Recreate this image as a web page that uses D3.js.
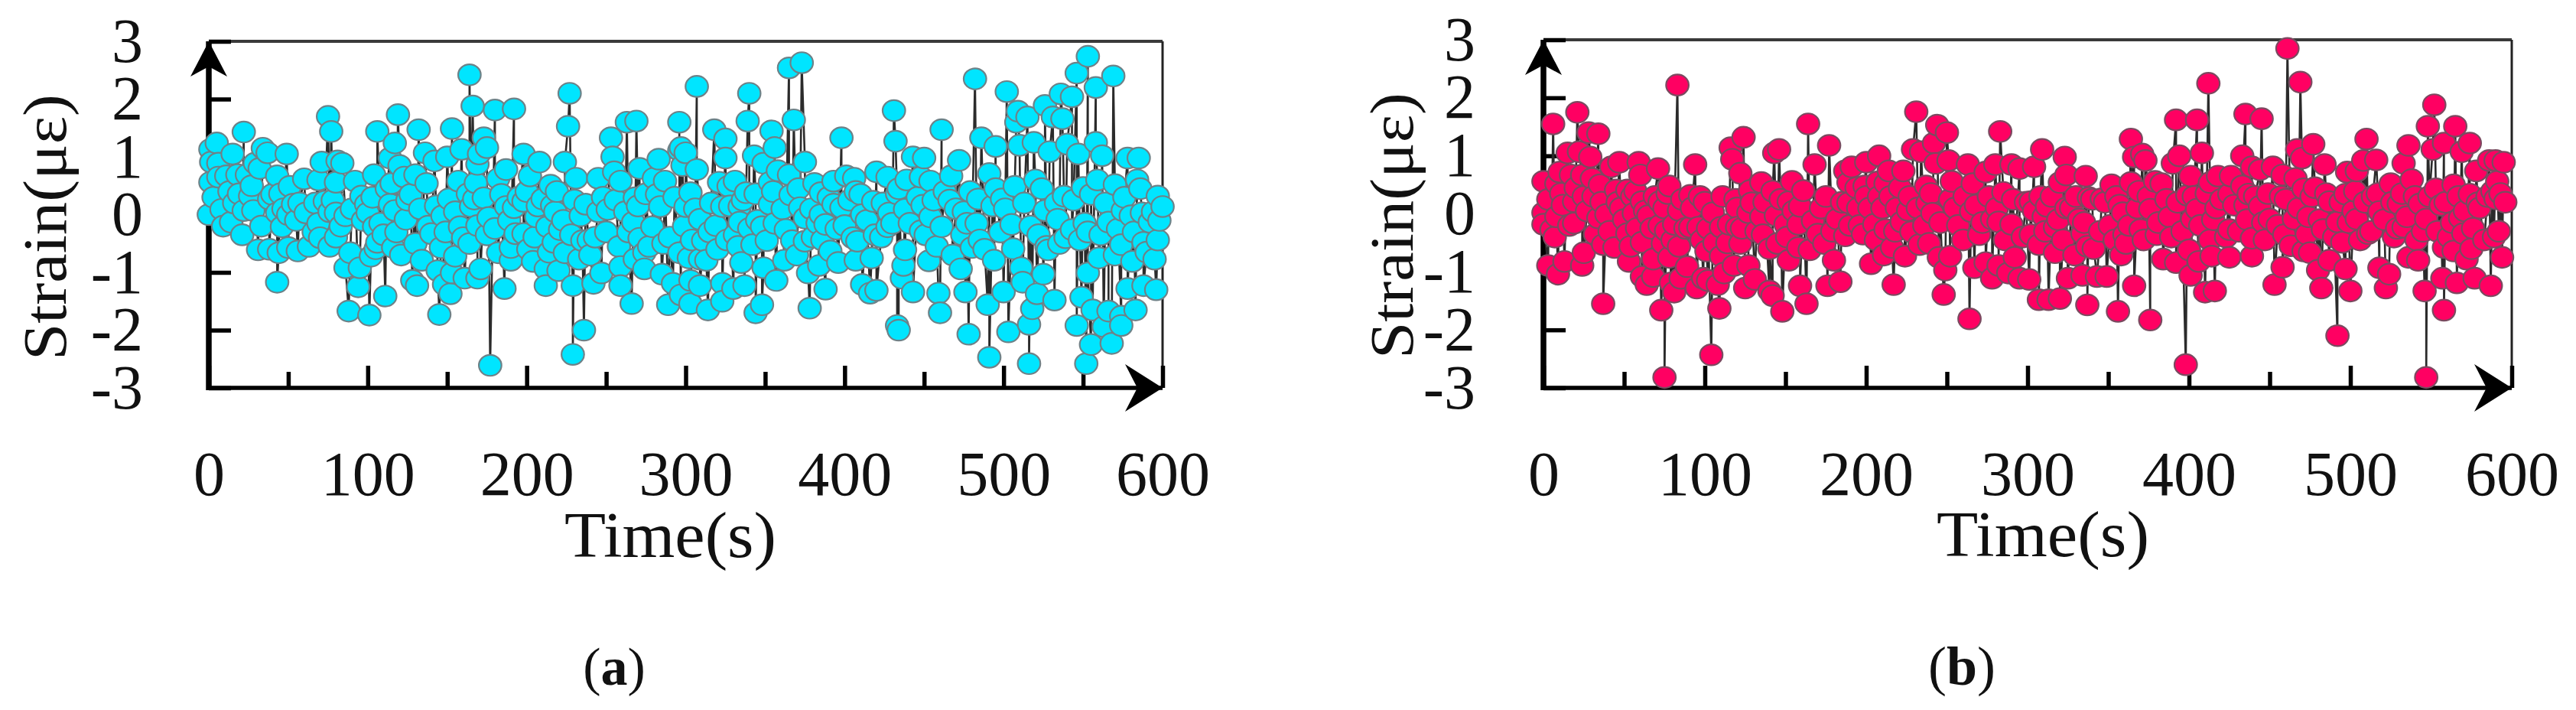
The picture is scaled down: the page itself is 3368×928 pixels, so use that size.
<!DOCTYPE html>
<html><head><meta charset="utf-8">
<script src="https://cdnjs.cloudflare.com/ajax/libs/d3/7.8.5/d3.min.js"></script>
<style>html,body{margin:0;padding:0;background:#fff}svg{display:block}text{font-family:"Liberation Serif",serif;fill:#111}</style>
</head><body><svg id="c" width="3368" height="928"></svg>
<script>
const yTicks=[-3,-2,-1,0,1,2,3];
const xMajor=[0,100,200,300,400,500,600];
const xMinor=[50,150,250,350,450,550];
const xTitle="Time(s)", yTitle="Strain(με)";
const panelNames=["a","b"];
const pointsA=[[0,0],[1,1.13],[5,1.24],[22,1.43],[1.5,.91],[15,1.05],[6,.89],[1,.56],[6,.65],[11,.67],[18,.69],[29,.89],[34,1.15],[37,1.07],[49,1.05],[43,.67],[32,.8],[24,.69],[13,.4],[19,.36],[26,.32],[8,.09],[22,.07],[28,.07],[14,-.13],[21,-.35],[38,.27],[45,.36],[51,.49],[60,.62],[46,-.21],[43,.03],[50,0],[53,.18],[57,.2],[31,-.61],[38,-.6],[44,-.66],[43,-1.17],[50,-.57],[56,-.63],[66,-.3],[61,.03],[67,.2],[73,.23],[69,.6],[71,.91],[77,1.44],[75,1.7],[84,.89],[81,.93],[80,.56],[76,.05],[69,-.15],[76,-.55],[80,-.39],[86,-.02],[80,.03],[92,.58],[96,.32],[99,.18],[100,.03],[104,-.21],[89,-.66],[86,-.92],[95,-.92],[94,-1.25],[88,-1.67],[101,-1.74],[111,-1.41],[106,-.48],[102,-.72],[105,-.59],[104,.69],[106,1.44],[112,.45],[115,.54],[119,1.73],[117,1.24],[114,.98],[120,.85],[123,.65],[130,.69],[114,.18],[117,.07],[125,.25],[124,-.08],[137,.54],[132,1.47],[136,1.07],[116,-.57],[121,-.7],[130,-.5],[134,-.79],[128,-1.14],[131,-1.23],[142,.93],[150,1.0],[153,1.49],[159,1.13],[147,-.02],[151,.27],[157,.58],[140,-.33],[146,-.57],[155,-.72],[144,-.97],[153,-1.01],[148,-1.21],[152,-1.37],[145,-1.73],[161,-1.1],[163,.36],[167,.27],[173,.29],[165,.14],[158,-.21],[164,-.5],[169,-.19],[171,-.94],[169,-1.1],[173,1.33],[175,1.16],[170,1.05],[169,.87],[182,.62],[187,.78],[180,1.81],[164,2.42],[166,1.88],[192,1.83],[177,-2.61],[180,-.24],[175,-.35],[182,-.66],[190,-.79],[186,-1.28],[187,.14],[192,.12],[190,-.57],[193,-.33],[198,1.05],[208,.91],[202,.67],[200,.4],[198,.23],[206,-.04],[198,-.33],[204,-.81],[212,-.94],[212,-1.23],[220,-.97],[215,.51],[219,.4],[216,.16],[210,.27],[205,-.39],[213,-.21],[217,-.48],[224,-.66],[221,-.26],[226,1.53],[227,2.1],[224,.91],[231,.63],[228,-.35],[233,-.77],[229,-1.23],[229,-2.42],[242,-1.19],[236,-2.0],[237,.18],[234,-.02],[239,-.44],[243,-.39],[245,.05],[251,.09],[247,-1.01],[259,-.9],[259,-1.23],[266,-1.54],[245,.63],[253,1.33],[254,1.0],[255,.74],[259,.58],[262,.05],[268,.29],[269,1.62],[263,1.6],[271,.8],[267,-.13],[271,-.41],[275,.36],[283,.96],[280,.63],[287,.58],[284,.14],[279,-.21],[274,-.66],[268,-.77],[274,-.94],[285,-1.03],[289,-1.56],[290,-.39],[296,-.66],[292,-1.19],[297,-1.39],[296,1.6],[296,1.11],[298,.85],[300,.14],
[307,2.22],[340,2.1],[339,1.62],[318,1.47],[325,1.31],[325,.98],[354,1.45],[356,1.16],[368,1.64],[375,.91],[365,2.54],[373,2.63],[297,1.16],[300,1.07],[307,.78],[303,.38],[321,.56],[331,.58],[327,.49],[338,.38],[344,.36],[323,.14],[334,.14],[353,.18],[309,-.08],[319,-.19],[315,-.3],[334,-.13],[340,-.24],[348,-.21],[356,-.15],[363,-.26],[304,-.44],[326,-.44],[331,-.35],[342,-.52],[313,-.79],[309,-.77],[335,-.83],[349,-.92],[362,-.79],[370,-.7],[303,-1.14],[309,-1.23],[323,-1.19],[337,-1.23],[330,-1.28],[357,-1.14],[303,-1.54],[314,-1.65],[323,-1.5],[344,-1.7],[348,-1.56],[378,-1.62],[388,-1.29],[377,-1.01],[343,1.02],[349,.89],[358,.76],[365,.69],[353,.56],[366,.34],[372,.12],[375,-.06],[381,.54],[385,.38],[393,.58],[398,1.33],[401,.67],[406,.63],[407,.4],[393,.18],[398,.12],[385,0],[411,0],[418,.23],[420,.74],[427,.65],[428,.03],[427,-.21],[423,-.39],[417,-.75],[400,-.19],[388,-.17],[380,-.39],[375,-.46],[386,-.44],[408,-.46],[391,-.63],[396,-.83],[384,-.88],[407,-.79],[411,-1.21],[416,-1.36],[420,-1.31],[431,1.8],[432,1.27],[433,.36],[438,.09],[439,.6],[443,1.0],[450,.98],[448,.65],[454,.58],[449,.16],[454,-.04],[448,-.28],[438,-.61],[437,-.88],[436,-1.1],[443,-1.34],[433,-1.92],[434,-2.0],[453,-.8],[461,1.47],[472,.94],[467,.67],[466,.25],[461,-.21],[468,-.7],[473,-.94],[459,-1.36],[460,-1.7],[476,-1.34],[478,-2.07],[477,-.15],[475,.05],[485,-.44],[480,-.57],[484,.27],[482,2.35],[486,1.33],[495,1.18],[491,.71],[495,.45],[499,.27],[494,-.79],[490,-1.56],[491,-2.47],[500,-1.34],[503,-2.03],[505,-.17],[506,-.59],[507,.49],[502,2.13],[509,1.79],[508,1.6],[515,1.69],[510,1.2],[519,1.25],[529,1.09],[524,.45],[526,.07],[534,-.08],[522,-.35],[528,-.61],[535,-.5],[511,-.92],[512,-1.17],[525,-1.03],[532,-1.48],[521,-1.37],[518,-1.63],[516,-1.9],[516,-2.58],[526,1.89],[531,1.69],[536,2.09],[537,1.66],[543,2.04],[546,2.45],[553,2.74],[558,2.2],[569,2.4],[540,1.22],[547,1.05],[562,1.02],[558,1.25],[538,.32],[543,-.26],[548,-.44],[553,-.3],[561,-.35],[566,-.13],[550,.47],[559,.6],[570,.52],[553,-1.01],[549,-1.43],[546,-1.92],[556,-1.65],[566,-1.67],[574,-1.76],[563,-1.94],[574,-1.92],[583,-1.65],[552,-2.58],[555,-2.25],[568,-2.23],[578,.98],[585,.98],[584,.6],[575,.07],[580,-.02],[587,.03],[592,-.13],[570,-.7],[574,-.52],[581,-.81],[588,-.48],[595,-.77],[597,-.44],[578,-1.28],[588,-1.23],[596,-1.3],[597,.32],[600,.14]];
const denseBandA=[[3,.3],[9,-.2],[16,.2],[27,.5],[33,-.2],[40,.35],[47,.1],[55,-.1],[63,-.55],[70,-.4],[78,.25],[83,-.2],[90,.1],[97,-.1],[103,.3],[108,-.15],[110,-.35],[118,-.3],[127,.35],[133,.1],[138,-.2],[143,.15],[149,-.3],[155,.05],[160,-.4],[168,.55],[176,-.05],[184,.35],[189,-.1],[195,.3],[201,-.6],[207,.15],[214,-.65],[218,.05],[223,-.1],[230,.25],[235,-.45],[240,-.7],[248,.3],[250,-.3],[256,.25],[258,-.55],[264,-.3],[270,.15],[277,-.55],[282,.35],[286,-.5],[293,.3],[299,-.2],[302,-.75],[306,.1],[311,-.45],[316,.2],[320,-.6],[328,.15],[333,-.55],[336,.25],[345,-.1],[351,-.45],[355,.4],[361,.1],[367,-.45],[371,.45],[379,.1],[383,-.15],[390,.3],[395,-.25],[403,.25],[405,-.4],[410,.35],[414,-.1],[419,-.35],[424,.2],[430,-.15],[434,.45],[441,-.15],[446,.3],[451,-.35],[456,.25],[458,-.55],[463,.4],[470,.1],[474,-.35],[479,.4],[483,-.15],[488,-.6],[493,.15],[498,-.3],[501,.1],[513,.2],[517,-.2],[520,.6],[527,-.55],[533,.2],[539,-.4],[544,.25],[551,-.15],[555,.35],[560,-.75],[564,.2],[572,-.25],[576,.3],[582,-.3],[586,.45],[590,-.65],[594,.05],[598,-.1]];
const pointsB=[[6,1.55],[21,1.75],[28,1.4],[34,1.38],[15,1.05],[22,1.07],[29,.98],[10,.72],[17,.67],[24,.67],[30,.61],[0,.56],[8,.52],[35,.5],[42,.81],[47,.89],[59,.89],[60,.67],[71,.78],[45,.41],[52,.41],[57,.39],[25,.3],[31,.3],[12,.15],[19,.21],[0,.02],[8,-.05],[19,-.16],[0,-.18],[5,-.27],[34,-.07],[39,-.01],[48,.1],[61,.21],[56,.01],[75,.1],[65,-.03],[3,-.89],[9,-1.04],[13,-.82],[24,-.89],[25,-.67],[37,-.53],[44,-.58],[37,-1.55],[52,-.34],[61,-.49],[54,-.56],[53,-.82],[61,-1.08],[64,-1.22],[68,-1.08],[68,-.78],[74,-.51],[67,-.25],[76,-.29],[84,-.56],[73,-1.66],[75,-2.82],[83,2.22],[79,-1.19],[81,-1.35],[78,-.75],[89,-.91],[95,-1.28],[85,-1.11],[109,-1.63],[104,-2.43],[108,-1.22],[102,-1.15],[99,-1.11],[112,-1.02],[110,-.73],[101,-.64],[118,-.89],[127,-.89],[131,-1.13],[125,-1.28],[140,-1.33],[142,-1.41],[148,-1.68],[78,.48],[72,.21],[94,.85],[91,.32],[97,.3],[84,.06],[91,-.23],[81,-.18],[96,-.23],[105,.02],[102,-.25],[110,-.23],[115,-.18],[120,.1],[116,1.14],[124,1.32],[117,.94],[122,.7],[135,.54],[142,.39],[129,.19],[127,.02],[135,-.05],[120,-.23],[122,-.51],[136,-.36],[144,-.03],[150,-.18],[145,-.51],[152,-.8],[146,1.11],[143,1.05],[154,.56],[152,.21],[159,.13],[164,1.55],[168,.85],[177,1.18],[172,.1],[182,-.09],[158,-.18],[167,-.12],[158,-.58],[165,-.62],[174,-.51],[180,-.8],[159,-1.24],[163,-1.55],[176,-1.24],[184,-1.17],[187,.74],[191,.81],[200,.89],[208,1.0],[189,.54],[199,.48],[214,.74],[223,.74],[212,.52],[189,.19],[200,.3],[208,.3],[195,.1],[219,.1],[226,.06],[187,-.38],[196,-.2],[205,-.18],[212,-.27],[222,-.14],[206,-.45],[216,-.58],[203,-.86],[211,-.71],[224,-.73],[217,-1.22],[228,-.31],[233,-.53],[239,-.51],[231,1.76],[244,1.53],[250,1.4],[229,1.11],[234,1.07],[242,1.22],[243,.87],[251,.92],[263,.85],[237,.48],[253,.56],[266,.52],[238,.19],[241,.01],[255,.1],[265,.04],[245,-.75],[252,-.73],[249,-.97],[248,-1.39],[264,-1.81],[267,-.93],[260,-.45],[270,-.36],[283,1.42],[274,.72],[280,.85],[290,.85],[295,.78],[285,.37],[278,-.09],[282,-.14],[278,-1.11],[288,-1.02],[295,-1.11],[274,-.84],[282,-.89],[292,-.75],[290,-.18],
[309,1.11],[323,.98],[304,.81],[324,.67],[336,.65],[320,.54],[364,1.29],[371,1.03],[373,.92],[366,.98],[352,.5],[364,.54],[383,.52],[379,.56],[338,.28],[346,.26],[355,.3],[369,.39],[392,1.62],[405,1.62],[394,1.0],[408,1.05],[412,2.25],[390,.87],[401,.65],[413,.54],[418,.65],[426,.65],[435,1.72],[445,1.64],[433,1.0],[439,.81],[444,.76],[452,.81],[458,.67],[461,2.85],[467,1.11],[470,.96],[469,2.27],[477,1.2],[484,.85],[466,.61],[471,.43],[478,.45],[399,.32],[437,.34],[433,.48],[457,.3],[425,.34],[302,.21],[312,.13],[324,.1],[332,-.09],[310,-.05],[317,-.23],[334,-.34],[302,-.36],[307,-.53],[317,-.67],[329,-.71],[341,-.6],[337,-.56],[325,-1.11],[334,-1.06],[343,-1.08],[349,-1.08],[301,-1.13],[307,-1.48],[313,-1.48],[320,-1.46],[337,-1.57],[356,-1.68],[366,-1.24],[376,-1.83],[358,-.71],[361,-.51],[351,-.2],[360,-.36],[359,.02],[370,-.27],[380,-.36],[376,.08],[388,-.05],[384,-.78],[392,-.84],[401,-1.06],[400,-.62],[406,-.82],[410,-1.35],[416,-1.33],[414,-.73],[425,-.75],[439,-.73],[405,.08],[402,-.09],[398,-2.6],[417,.1],[425,-.27],[413,-.45],[439,-.42],[447,-.45],[435,.15],[444,.13],[450,-.09],[459,-.36],[465,-.09],[474,-.05],[453,-1.22],[458,-.92],[471,-.64],[480,-.97],[482,-1.28],[497,-.95],[500,-1.33],[492,-2.1],[487,-.8],[475,-.67],[483,-.27],[495,-.49],[492,-.14],[487,.21],[498,.72],[504,.74],[510,1.29],[508,.92],[516,.93],[497,.34],[503,.39],[514,.3],[525,.52],[504,-.09],[511,-.34],[518,-.93],[524,-1.04],[522,-1.28],[518,.04],[530,.17],[527,-.4],[533,-.23],[541,-.45],[536,-.75],[542,-.8],[536,1.18],[533,.87],[538,.59],[548,1.51],[551,1.11],[552,1.88],[558,1.22],[565,1.51],[574,1.22],[569,1.07],[553,.43],[564,.5],[543,.17],[556,.15],[547,-.09],[547,-2.82],[568,-.07],[570,-.34],[561,-.4],[558,-.58],[564,-.64],[575,-.6],[572,-.78],[546,-1.33],[557,-1.11],[566,-1.19],[577,-1.11],[587,-1.24],[558,-1.66],[589,-.4],[594,-.75],[578,.74],[586,.92],[595,.89],[590,.92],[591,.56],[579,.19],[593,.35],[588,.39],[574,.34],[590,.26]];
const denseBandB=[[3,.25],[7,-.4],[11,.35],[16,-.2],[20,.45],[27,.05],[32,-.35],[36,.2],[41,-.3],[46,.2],[50,-.1],[55,.3],[58,-.25],[63,.05],[69,.3],[72,-.2],[77,.35],[80,-.45],[86,.25],[88,-.25],[92,.1],[98,-.45],[100,.2],[106,-.5],[111,.3],[114,-.5],[119,.25],[123,-.25],[128,.4],[132,-.3],[137,.2],[140,-.6],[147,.25],[151,-.4],[155,.05],[161,.4],[170,-.35],[175,.3],[179,-.3],[185,.2],[190,-.2],[194,.45],[198,-.35],[202,.1],[207,.55],[210,.1],[215,.3],[218,-.3],[221,.45],[227,.3],[232,.1],[236,-.2],[240,.35],[246,-.15],[252,.25],[257,-.2],[261,.3],[268,.15],[272,-.15],[276,.3],[281,.1],[286,-.45],[291,.25],[297,-.4],[299,.2],[304,.05],[308,.3],[311,-.3],[315,.3],[319,-.1],[322,-.45],[327,.1],[330,.3],[335,-.15],[340,.25],[345,-.3],[348,.2],[354,-.45],[357,.15],[363,-.2],[368,.1],[372,-.45],[375,.3],[381,-.15],[386,.25],[389,-.4],[393,.2],[396,-.3],[403,.3],[407,-.2],[411,.35],[415,-.1],[420,.25],[423,-.4],[428,.15],[431,-.3],[436,-.1],[441,.3],[446,-.15],[449,.35],[455,-.2],[460,.25],[463,-.55],[468,.1],[473,-.35],[476,.3],[481,-.1],[485,.35],[490,-.4],[494,.2],[499,-.15],[502,.05],[506,-.45],[509,.2],[513,-.3],[517,.35],[521,-.1],[526,.2],[529,-.25],[532,.35],[535,-.05],[540,.3],[545,-.3],[549,.3],[554,-.3],[559,.2],[563,-.15],[567,.3],[571,.05],[576,-.25],[580,.1],[583,-.45],[585,.3],[592,-.3],[596,.2]];

const svg=d3.select("#c");
function panel(o){
  const pts=o.points.slice().sort((p,q)=>d3.ascending(p[0],q[0]));
  const x=d3.scaleLinear().domain([0,600]).range([o.left,o.right]);
  const y=d3.scaleLinear().domain([-3,3]).range([o.bottom,o.top]);
  const g=svg.append("g");
  g.append("line").attr("x1",x(0)).attr("x2",x(600)).attr("y1",y(3)).attr("y2",y(3)).attr("stroke","#3a3a3a").attr("stroke-width",o.frame+1);
  g.append("line").attr("x1",x(600)).attr("x2",x(600)).attr("y1",y(3)).attr("y2",y(-3)).attr("stroke","#222").attr("stroke-width",o.frame);
  const mk=a=>{a.select(".domain").remove();return a;};
  const major=mk(g.append("g").attr("transform",`translate(0,${o.bottom})`).call(d3.axisBottom(x).tickValues(xMajor).tickSizeInner(-29).tickSizeOuter(0).tickFormat(d3.format("d"))));
  major.selectAll("line").attr("stroke","#000").attr("stroke-width",5.5);
  major.selectAll("text").attr("y",o.xLabelBase-o.bottom).attr("dy",0).attr("font-size",82).attr("text-anchor","middle");
  const minor=mk(g.append("g").attr("transform",`translate(0,${o.bottom})`).call(d3.axisBottom(x).tickValues(xMinor).tickSizeInner(-21).tickSizeOuter(0).tickFormat("")));
  minor.selectAll("line").attr("stroke","#000").attr("stroke-width",5.5);
  const ya=mk(g.append("g").attr("transform",`translate(${o.left},0)`).call(d3.axisLeft(y).tickValues(yTicks).tickSizeInner(-29).tickSizeOuter(0).tickFormat(d3.format("d"))));
  ya.selectAll("line").attr("stroke","#000").attr("stroke-width",5.5);
  ya.selectAll("text").attr("x",o.yLabelRight-o.left).attr("dy",26).attr("font-size",82).attr("text-anchor","end").text(d=>String(d));
  g.append("line").attr("x1",x(0)).attr("x2",x(0)).attr("y1",y(3)).attr("y2",y(-3)+3).attr("stroke","#000").attr("stroke-width",7.5);
  g.append("line").attr("x1",x(0)-3).attr("x2",x(600)).attr("y1",y(-3)).attr("y2",y(-3)).attr("stroke","#000").attr("stroke-width",5.5);
  const ay=d3.path();ay.moveTo(x(0),y(3));ay.lineTo(x(0)+24,y(3)+46);ay.lineTo(x(0),y(3)+33);ay.lineTo(x(0)-24,y(3)+46);ay.closePath();
  g.append("path").attr("d",ay.toString()).attr("fill","#000");
  const ax=d3.path();ax.moveTo(x(600),y(-3));ax.lineTo(x(600)-49,y(-3)+31);ax.lineTo(x(600)-33,y(-3));ax.lineTo(x(600)-49,y(-3)-31);ax.closePath();
  g.append("path").attr("d",ax.toString()).attr("fill","#000");
  const line=d3.line().x(d=>x(d[0])).y(d=>y(d[1]));
  g.append("path").attr("d",line(pts)).attr("fill","none").attr("stroke","#2b2b2b").attr("stroke-width",2.6);
  g.append("g").selectAll("ellipse").data(pts).join("ellipse")
    .attr("cx",d=>x(d[0])).attr("cy",d=>y(d[1])).attr("rx",14.8).attr("ry",13.7)
    .attr("fill",o.fill).attr("stroke",o.edge).attr("stroke-width",2.2);
  g.append("text").attr("x",o.xTitleX).attr("y",o.xTitleY).attr("font-size",84).attr("textLength",o.xTitleLen).attr("lengthAdjust","spacingAndGlyphs").text(xTitle);
  g.append("text").attr("transform",`translate(${o.yTitleX},${o.yTitleMid}) rotate(-90)`).attr("text-anchor","middle").attr("font-size",80).attr("textLength",348).attr("lengthAdjust","spacingAndGlyphs").text(yTitle);
  const cap=g.append("text").attr("x",o.capX).attr("y",895).attr("font-size",o.capSize).attr("text-anchor","middle");
  cap.append("tspan").text("(");
  cap.append("tspan").attr("font-weight","bold").text(o.name);
  cap.append("tspan").text(")");
}
panel({name:panelNames[0],points:pointsA.concat(denseBandA),left:273,right:1520,top:54,bottom:507,fill:"#00E5FF",edge:"#6d8288",frame:3,xLabelBase:647,yLabelRight:187,xTitleX:738,xTitleY:728,xTitleLen:277,yTitleX:86,yTitleMid:297,capX:803,capSize:70});
panel({name:panelNames[1],points:pointsB.concat(denseBandB),left:2018,right:3284,top:52,bottom:507,fill:"#FF0062",edge:"#7b4a60",frame:3,xLabelBase:647,yLabelRight:1929,xTitleX:2532,xTitleY:727,xTitleLen:278,yTitleX:1847,yTitleMid:295,capX:2565,capSize:72});
</script></body></html>
